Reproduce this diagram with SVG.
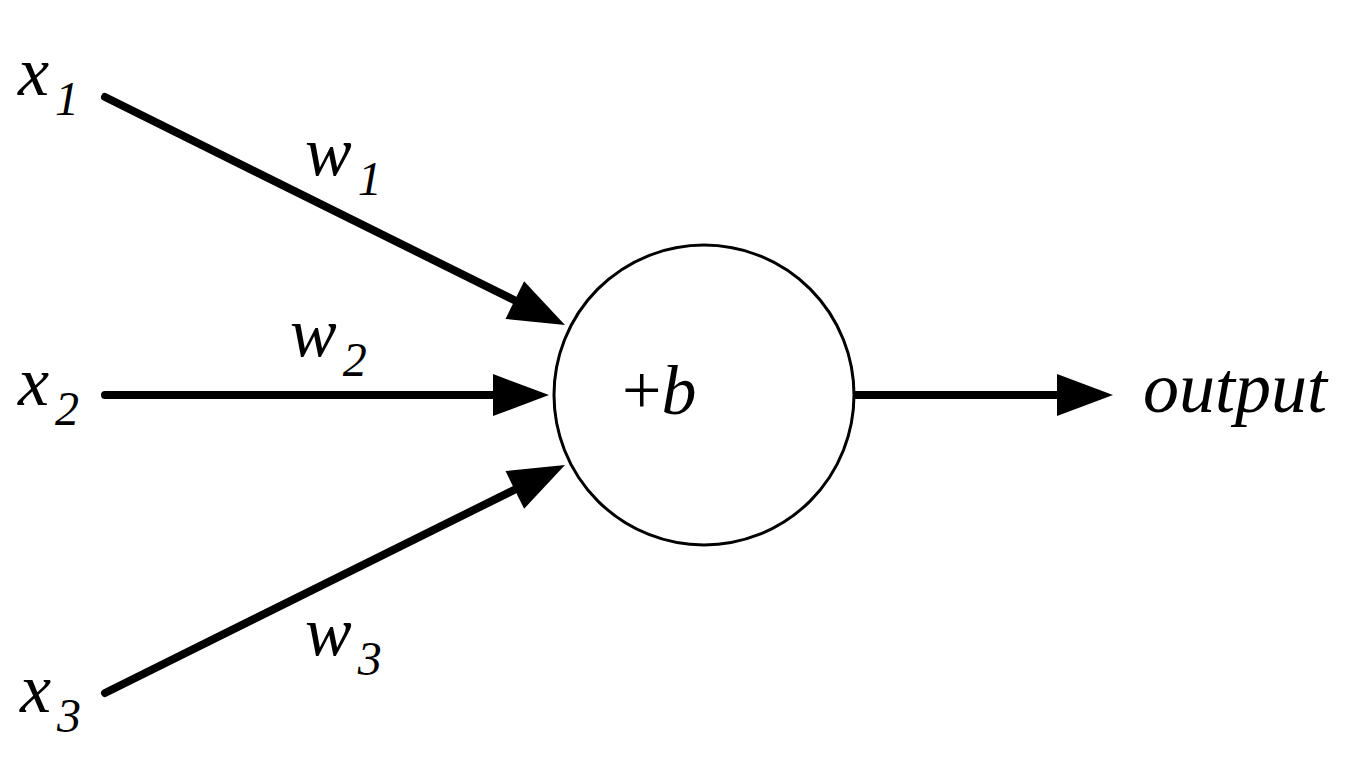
<svg xmlns="http://www.w3.org/2000/svg" width="1358" height="766" viewBox="0 0 1358 766">
<rect width="1358" height="766" fill="#fff"/>
<g id="connectors" stroke="#000" stroke-width="8" stroke-linecap="round" fill="none">
<line x1="105" y1="97" x2="520" y2="303"/>
<polygon fill="#000" stroke="none" points="565,325 505.5,318.9 524.1,281.3"/>
<line x1="105" y1="395" x2="500" y2="395"/>
<polygon fill="#000" stroke="none" points="549,395 493,374 493,416"/>
<line x1="105" y1="693" x2="520" y2="487"/>
<polygon fill="#000" stroke="none" points="565,465 524.1,508.7 505.5,471.1"/>
<line x1="853" y1="395" x2="1062" y2="395" stroke-linecap="butt"/>
<polygon fill="#000" stroke="none" points="1113,395 1057,374 1057,416"/>
</g>
<circle id="neuron" cx="704" cy="395" r="150" fill="none" stroke="#000" stroke-width="3"/>
<text x="622" y="414" font-family="Liberation Serif" font-style="italic" font-size="70"><tspan font-style="normal">+</tspan>b</text>
<text x="18" y="95" font-family="Liberation Serif" font-style="italic" font-size="70">x<tspan font-size="48" dx="6" dy="20">1</tspan></text>
<text x="18" y="405" font-family="Liberation Serif" font-style="italic" font-size="70">x<tspan font-size="48" dx="6" dy="20">2</tspan></text>
<text x="20" y="712" font-family="Liberation Serif" font-style="italic" font-size="70">x<tspan font-size="48" dx="6" dy="20">3</tspan></text>
<text x="305" y="175" font-family="Liberation Serif" font-style="italic" font-size="70">w<tspan font-size="48" dx="6" dy="20">1</tspan></text>
<text x="290" y="356" font-family="Liberation Serif" font-style="italic" font-size="70">w<tspan font-size="48" dx="6" dy="20">2</tspan></text>
<text x="305" y="655" font-family="Liberation Serif" font-style="italic" font-size="70">w<tspan font-size="48" dx="6" dy="20">3</tspan></text>
<text x="1143" y="412" font-family="Liberation Serif" font-style="italic" font-size="72">output</text>
</svg>
